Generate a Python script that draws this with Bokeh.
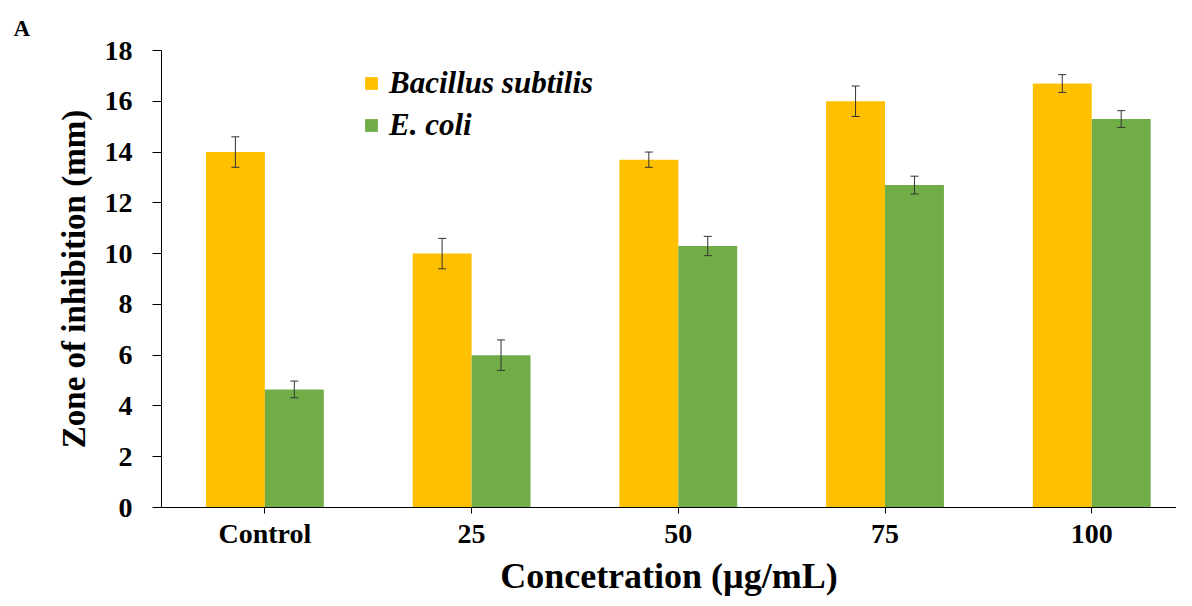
from bokeh.plotting import figure
from bokeh.models import ColumnDataSource, Whisker, TeeHead, Legend, LegendItem, FixedTicker, Range1d
from bokeh.embed import file_html
from bokeh.resources import INLINE

categories = ["Control", "25", "50", "75", "100"]
bacillus = [14.0, 10.0, 13.7, 16.0, 16.7]
bacillus_err = [0.6, 0.6, 0.3, 0.6, 0.35]
ecoli = [4.65, 6.0, 10.3, 12.7, 15.3]
ecoli_err = [0.33, 0.6, 0.38, 0.35, 0.33]
y_ticks = [0, 2, 4, 6, 8, 10, 12, 14, 16, 18]

FONT = "Liberation Serif"
ORANGE = "#FFC000"
GREEN = "#70AD47"
bw = 0.285
off = bw / 2

xs = list(range(len(categories)))
src_b = ColumnDataSource(dict(x=[i - off for i in xs], top=bacillus,
                              upper=[v + e for v, e in zip(bacillus, bacillus_err)],
                              lower=[v - e for v, e in zip(bacillus, bacillus_err)]))
src_e = ColumnDataSource(dict(x=[i + off for i in xs], top=ecoli,
                              upper=[v + e for v, e in zip(ecoli, ecoli_err)],
                              lower=[v - e for v, e in zip(ecoli, ecoli_err)]))

p = figure(width=1176, height=598, output_backend="svg", toolbar_location=None,
           x_range=Range1d(-0.5, 4.41), y_range=Range1d(0, 18),
           min_border_left=161, min_border_top=50, min_border_right=0, min_border_bottom=0,
           title="A")
p.title.text_font = FONT
p.title.text_font_style = "bold"
p.title.text_font_size = "23px"
p.title.text_color = "black"
p.title.align = "left"
p.title.offset = -148
p.title.standoff = 20

p.outline_line_color = None
p.xgrid.visible = False
p.ygrid.visible = False

rb = p.vbar(x="x", top="top", width=bw, source=src_b, fill_color=ORANGE, line_color=None)
re_ = p.vbar(x="x", top="top", width=bw, source=src_e, fill_color=GREEN, line_color=None)

for src in (src_b, src_e):
    w = Whisker(source=src, base="x", upper="upper", lower="lower",
                line_color="#333333", line_width=1, level="overlay",
                upper_head=TeeHead(size=8, line_color="#333333", line_width=1),
                lower_head=TeeHead(size=8, line_color="#333333", line_width=1))
    p.add_layout(w)

# axes
p.xaxis.ticker = FixedTicker(ticks=xs)
p.xaxis.major_label_overrides = {i: c for i, c in enumerate(categories)}
p.yaxis.ticker = FixedTicker(ticks=y_ticks)
for ax in (p.xaxis[0], p.yaxis[0]):
    ax.axis_line_color = "black"
    ax.axis_line_width = 1
    ax.major_tick_line_color = "black"
    ax.minor_tick_line_color = None
    ax.major_tick_in = 0
    ax.major_label_text_font = FONT
    ax.major_label_text_font_style = "bold"
    ax.major_label_text_font_size = "28px"
    ax.major_label_text_color = "black"
    ax.axis_label_text_font = FONT
    ax.axis_label_text_font_style = "bold"
    ax.axis_label_text_color = "black"

p.xaxis.major_tick_out = 6
p.xaxis.major_label_standoff = 4
p.xaxis.axis_label = "Concetration (µg/mL)"
p.xaxis.axis_label_text_font_size = "36px"
p.xaxis.axis_label_standoff = 4
p.yaxis.major_tick_out = 9
p.yaxis.major_label_standoff = 20
p.yaxis.axis_label = "Zone of inhibition (mm)"
p.yaxis.axis_label_text_font_size = "33px"
p.yaxis.axis_label_standoff = 10

legend = Legend(items=[LegendItem(label="Bacillus subtilis", renderers=[rb]),
                       LegendItem(label="E. coli", renderers=[re_])],
                location=(202, 364), orientation="vertical",
                glyph_width=16, glyph_height=16, label_height=30, spacing=6,
                padding=0, margin=0, label_standoff=10,
                label_text_font=FONT, label_text_font_style="bold italic",
                label_text_font_size="31px", label_text_color="black",
                border_line_color=None, background_fill_alpha=0)
p.add_layout(legend)

open("out.html", "w").write(file_html(p, INLINE))
